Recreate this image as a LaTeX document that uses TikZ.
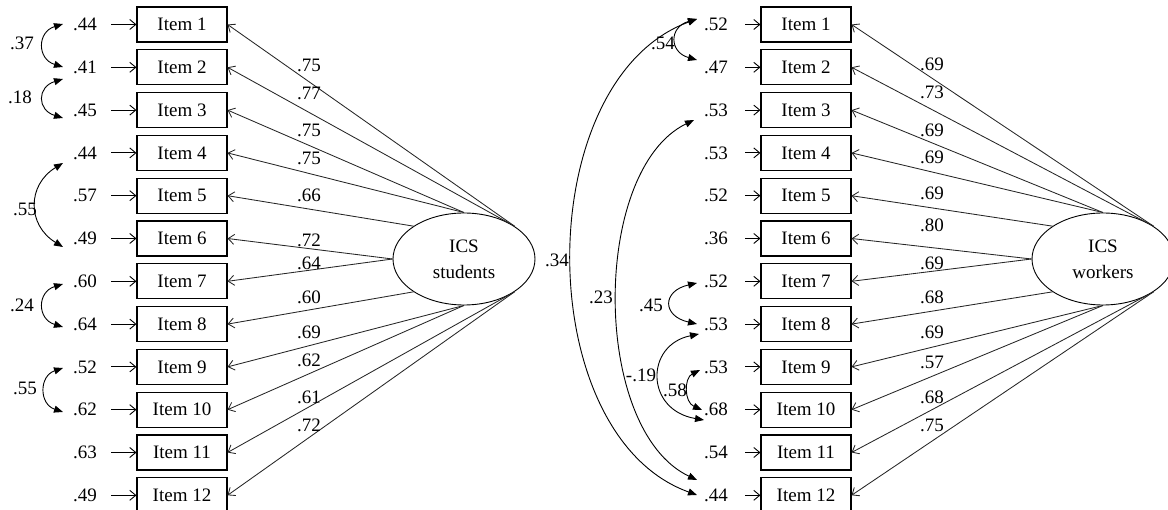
\documentclass[tikz,border=0pt]{standalone}
\usepackage{fontspec}
\setmainfont{Liberation Serif}
\usetikzlibrary{arrows.meta,shapes.geometric}
\begin{document}
\begin{tikzpicture}[x=1pt,y=-1pt,
  every node/.style={font=\fontsize{19}{26}\selectfont, text=black},
  itembox/.style={draw, line width=1.1pt, minimum width=90pt, minimum height=35pt, inner sep=0pt},
  latent/.style={draw, ellipse, line width=0.9pt, minimum width=142pt, minimum height=92pt, inner sep=0pt, align=center},
  errlab/.style={inner sep=1pt},
  errarrow/.style={line width=0.9pt, -{Straight Barb[length=6pt,width=10pt]}},
  load/.style={line width=0.85pt, draw=black!85, -{Straight Barb[length=6pt,width=10pt]}},
  cov/.style={line width=0.9pt, {Triangle[length=9pt,width=7pt]}-{Triangle[length=9pt,width=7pt]}},
  num/.style={inner sep=0pt}
]
\useasboundingbox (0,0) rectangle (1168,510);

% ---------------- left panel ----------------
\node[latent] (L) at (464,259) {ICS\\students};
\foreach \i in {1,...,12} {
  \node[itembox] (a\i) at (182,{24.5+42.8*(\i-1)}) {Item \i};
}
\foreach \i/\v in {1/.44,2/.41,3/.45,4/.44,5/.57,6/.49,7/.60,8/.64,9/.52,10/.62,11/.63,12/.49} {
  \node[errlab] (ea\i) at (85,{24.5+42.8*(\i-1)}) {\v};
  \draw[errarrow, shorten <=13pt] (ea\i) -- (a\i);
}
\foreach \i/\anc in {1/north east,2/north east,3/north,4/north,5/north west,6/west,7/west,8/south west,9/south,10/south,11/south east,12/south east} {
  \draw[load] (L.\anc) -- (a\i.east);
}
\foreach \v/\y [count=\k] in {.75/65,.77/93,.75/130,.75/158,.66/195,.72/240,.64/263,.60/297,.69/332,.62/360,.61/397,.72/425} {
  \node[num] (la\k) at (309,\y) {\v};
}
% covariances left
\coordinate (pa1) at (63,24);  \coordinate (pa2) at (63,67);
\coordinate (pa3) at (63,79);  \coordinate (pa4) at (63,118);
\coordinate (pa5) at (63,163); \coordinate (pa6) at (63,247);
\coordinate (pa7) at (63,284); \coordinate (pa8) at (63,327);
\coordinate (pa9) at (63,368); \coordinate (pa10) at (63,412);
\draw[cov] (pa1) .. controls (37,32) and (37,59) .. (pa2);
\draw[cov] (pa3) .. controls (37,87) and (37,110) .. (pa4);
\draw[cov] (pa5) .. controls (27,185) and (27,225) .. (pa6);
\draw[cov] (pa7) .. controls (37,292) and (37,319) .. (pa8);
\draw[cov] (pa9) .. controls (39,376) and (39,404) .. (pa10);
\node[num] (ca1) at (22,43) {.37};
\node[num] (ca2) at (20,97) {.18};
\node[num] (ca3) at (25,209) {.55};
\node[num] (ca4) at (22,305) {.24};
\node[num] (ca5) at (25,388) {.55};

% ---------------- right panel ----------------
\node[latent] (R) at (1103,259) {ICS\\workers};
\foreach \i in {1,...,12} {
  \node[itembox] (b\i) at (806,{24.5+42.8*(\i-1)}) {Item \i};
}
\foreach \i/\v in {1/.52,2/.47,3/.53,4/.53,5/.52,6/.36,7/.52,8/.53,9/.53,10/.68,11/.54,12/.44} {
  \node[errlab] (eb\i) at (716,{24.5+42.8*(\i-1)}) {\v};
  \draw[errarrow, shorten <=16pt] (eb\i) -- (b\i);
}
\foreach \i/\anc in {1/north east,2/north east,3/north,4/north,5/north west,6/west,7/west,8/south west,9/south,10/south,11/south east,12/south east} {
  \draw[load] (R.\anc) -- (b\i.east);
}
\foreach \v/\y [count=\k] in {.69/64,.73/92,.69/130,.69/157,.69/193,.80/225,.69/263,.68/297,.69/332,.57/362,.68/397,.75/425} {
  \node[num] (lb\k) at (932,\y) {\v};
}
% covariances right
\coordinate (pb1) at (697,19);  \coordinate (pb2) at (697,60);
\coordinate (pb3) at (694,120); \coordinate (pb4) at (697,480);
\coordinate (pb5) at (697,495);
\coordinate (pb6) at (697,283); \coordinate (pb7) at (697,324);
\coordinate (pb8) at (699,334); \coordinate (pb9) at (704,420);
\coordinate (pb10) at (700,370); \coordinate (pb11) at (702,410);
\draw[cov] (pb1) .. controls (669,27) and (669,52) .. (pb2);
\draw[cov] (pb1) .. controls (530,80) and (530,435) .. (pb5);
\draw[cov] (pb3) .. controls (591,170) and (591,430) .. (pb4);
\draw[cov] (pb6) .. controls (662,291) and (662,316) .. (pb7);
\draw[cov] (pb8) .. controls (645,345) and (645,410) .. (pb9);
\draw[cov] (pb10) .. controls (684,378) and (684,402) .. (pb11);
\node[num] (cb1) at (663,43) {.54};
\node[num] (cb2) at (557,260) {.34};
\node[num] (cb3) at (601,297) {.23};
\node[num] (cb4) at (651,305) {.45};
\node[num] (cb5) at (641,375) {-.19};
\node[num] (cb6) at (675,390) {.58};
\end{tikzpicture}
\end{document}
